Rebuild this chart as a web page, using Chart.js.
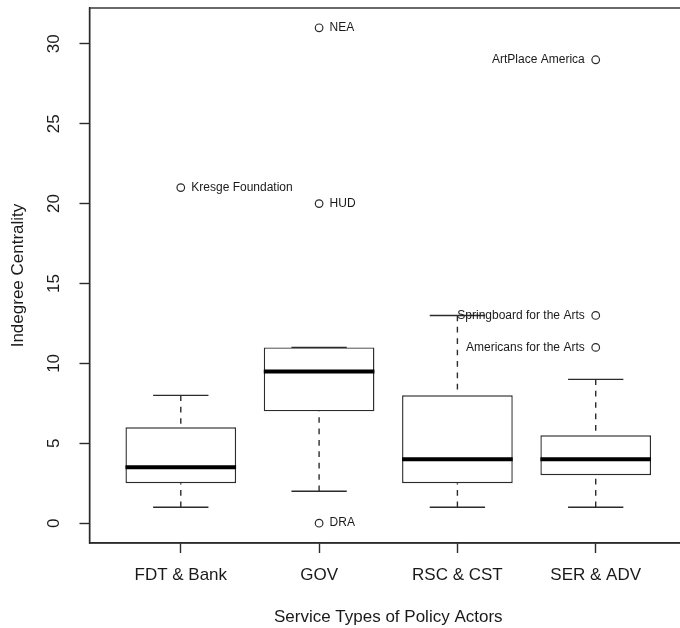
<!DOCTYPE html>
<html>
<head>
<meta charset="utf-8">
<script src="https://cdn.jsdelivr.net/npm/chart.js@4.4.1/dist/chart.umd.min.js"></script>
<style>
  html, body { margin: 0; padding: 0; background: #fff; overflow: hidden; }
  #wrap { position: absolute; left: 0; top: 0; width: 700px; height: 628px; }
</style>
</head>
<body>
<div id="wrap"><canvas id="c" width="700" height="628"></canvas></div>
<script>
// ---- data ----
const categories   = ['FDT & Bank', 'GOV', 'RSC & CST', 'SER & ADV'];
const whiskerLow   = [1, 2, 1, 1];
const q1           = [2.5, 7, 2.5, 3];
const median       = [3.5, 9.5, 4, 4];
const q3           = [6, 11, 8, 5.5];
const whiskerHigh  = [8, 11, 13, 9];
const outlierCat   = [0, 1, 1, 1, 3, 3, 3];
const outlierValue = [21, 31, 20, 0, 29, 13, 11];
const outlierLabel = ['Kresge Foundation', 'NEA', 'HUD', 'DRA', 'ArtPlace America', 'Springboard for the Arts', 'Americans for the Arts'];
const yTicks       = [0, 5, 10, 15, 20, 25, 30];

// ---- styling ----
const LINE = '#2b2b2b';
const TEXT = '#1a1a1a';
const LW = 1.4;
const BOX_HALF = 0.4;
const CAP_HALF = 0.2;
Chart.defaults.font.family = '"Liberation Sans", Arial, Helvetica, sans-serif';
Chart.defaults.color = TEXT;

// build derived datasets
const boxData = categories.map((c, i) => ({ x: i + 1, y: [q1[i], q3[i]] }));
const medianData = [];
const capData = [];
const whiskerData = [];
categories.forEach((c, i) => {
  const x = i + 1;
  medianData.push({ x: x - BOX_HALF, y: median[i] }, { x: x + BOX_HALF, y: median[i] }, { x: x, y: null });
  capData.push({ x: x - CAP_HALF, y: whiskerHigh[i] }, { x: x + CAP_HALF, y: whiskerHigh[i] }, { x: x, y: null });
  capData.push({ x: x - CAP_HALF, y: whiskerLow[i] }, { x: x + CAP_HALF, y: whiskerLow[i] }, { x: x, y: null });
  whiskerData.push({ x: x, y: whiskerHigh[i] }, { x: x, y: q3[i] }, { x: x, y: null });
  whiskerData.push({ x: x, y: whiskerLow[i] }, { x: x, y: q1[i] }, { x: x, y: null });
});
const outlierData = outlierCat.map((c, i) => ({ x: c + 1, y: outlierValue[i] }));

const framePlugin = {
  id: 'frame',
  afterDatasetsDraw(chart) {
    const { ctx, chartArea } = chart;
    ctx.save();
    ctx.strokeStyle = LINE;
    ctx.lineWidth = LW;
    ctx.strokeRect(chartArea.left, chartArea.top, chartArea.right - chartArea.left, chartArea.bottom - chartArea.top);
    ctx.restore();
  }
};

const labelPlugin = {
  id: 'outlierLabels',
  afterDatasetsDraw(chart) {
    const { ctx } = chart;
    const idx = chart.data.datasets.findIndex(d => d.id === 'outliers');
    const meta = chart.getDatasetMeta(idx);
    ctx.save();
    ctx.font = '12px "Liberation Sans", Arial, sans-serif';
    ctx.fillStyle = TEXT;
    ctx.textBaseline = 'middle';
    meta.data.forEach((pt, i) => {
      const left = outlierCat[i] === categories.length - 1;
      ctx.textAlign = left ? 'right' : 'left';
      ctx.fillText(outlierLabel[i], pt.x + (left ? -11 : 10.5), pt.y);
    });
    ctx.restore();
  }
};

function noPad(scale) {
  scale.paddingTop = 0; scale.paddingBottom = 0;
  scale.paddingLeft = 0; scale.paddingRight = 0;
}

new Chart(document.getElementById('c'), {
  type: 'bar',
  data: {
    datasets: [
      { type: 'line', id: 'outliers', data: outlierData, showLine: false, order: 0,
        pointStyle: 'circle', pointRadius: 3.8, pointHoverRadius: 3.8, pointBorderWidth: 1.2,
        pointBackgroundColor: 'rgba(255,255,255,0)', pointBorderColor: LINE },
      { type: 'line', data: medianData, order: 1, borderColor: '#000', borderWidth: 4,
        pointRadius: 0, spanGaps: false, borderCapStyle: 'butt' },
      { type: 'line', data: capData, order: 2, borderColor: LINE, borderWidth: LW,
        pointRadius: 0, spanGaps: false },
      { type: 'line', data: whiskerData, order: 3, borderColor: LINE, borderWidth: LW,
        borderDash: [5.7, 5.7], pointRadius: 0, spanGaps: false },
      { type: 'bar', data: boxData, order: 4, backgroundColor: '#fff', borderColor: LINE,
        borderWidth: LW, borderSkipped: false, barPercentage: 0.8, categoryPercentage: 1, grouped: false }
    ]
  },
  options: {
    responsive: false,
    animation: false,
    devicePixelRatio: 1,
    events: [],
    layout: { padding: { top: 8, right: 13, bottom: 0, left: 0 } },
    plugins: { legend: { display: false }, tooltip: { enabled: false } },
    scales: {
      x: {
        type: 'linear', position: 'bottom', min: 0.34, max: 4.66, offset: false,
        afterBuildTicks(scale) { scale.ticks = categories.map((c, i) => ({ value: i + 1 })); },
        afterFit(scale) { scale.height = 85; noPad(scale); },
        ticks: { callback: (v) => categories[Math.round(v) - 1], font: { size: 17 }, color: TEXT,
                 padding: 12, maxRotation: 0, minRotation: 0, autoSkip: false },
        grid: { display: true, offset: false, drawOnChartArea: false, drawTicks: true, tickLength: 10,
                tickColor: LINE, tickWidth: LW },
        border: { display: true, color: LINE, width: LW },
        title: { display: true, text: 'Service Types of Policy Actors', font: { size: 17 }, color: TEXT,
                 padding: { top: 0, bottom: 0 } }
      },
      y: {
        type: 'linear', position: 'left', min: -1.24, max: 32.24,
        afterBuildTicks(scale) { scale.ticks = yTicks.map(v => ({ value: v })); },
        afterFit(scale) { scale.width = 89.5; noPad(scale); },
        ticks: { font: { size: 17 }, color: TEXT, minRotation: 90, maxRotation: 90,
                 crossAlign: 'center', padding: 16, autoSkip: false },
        grid: { display: true, drawOnChartArea: false, drawTicks: true, tickLength: 10,
                tickColor: LINE, tickWidth: LW },
        border: { display: true, color: LINE, width: LW },
        title: { display: true, text: 'Indegree Centrality', font: { size: 17 }, color: TEXT,
                 padding: { top: 8, bottom: 0 } }
      }
    }
  },
  plugins: [framePlugin, labelPlugin]
});
</script>
</body>
</html>
